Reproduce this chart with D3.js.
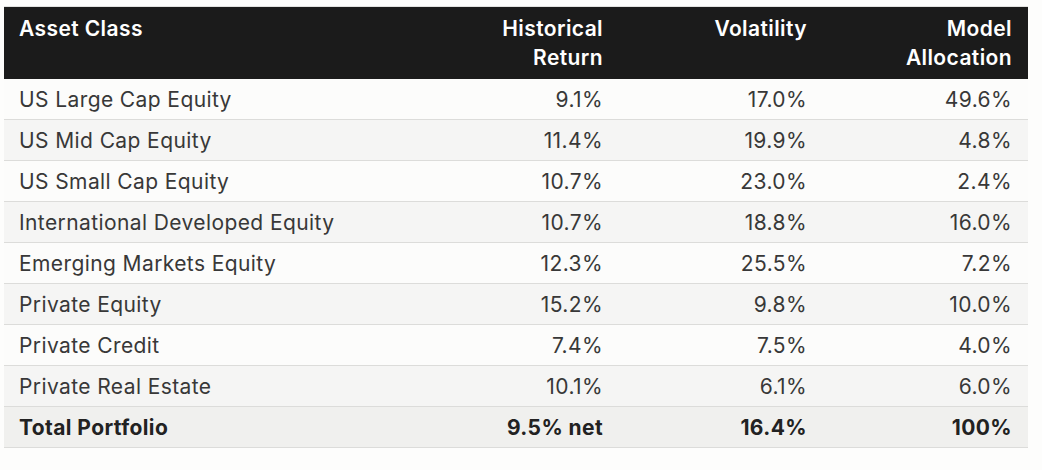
<!DOCTYPE html>
<html>
<head>
<meta charset="utf-8">
<script src="https://cdn.jsdelivr.net/npm/d3@7"></script>
<style>
  body { margin: 0; background: #fdfdfc; }
  svg { display: block; font-family: Inter, "Noto Sans", sans-serif; letter-spacing: 0.4px; }
</style>
</head>
<body>
<div id="chart"></div>
<script>
// Table data
const headers = [["Asset Class"], ["Historical", "Return"], ["Volatility"], ["Model", "Allocation"]];
const assetClasses = ["US Large Cap Equity", "US Mid Cap Equity", "US Small Cap Equity",
  "International Developed Equity", "Emerging Markets Equity", "Private Equity",
  "Private Credit", "Private Real Estate", "Total Portfolio"];
const historicalReturn = ["9.1%", "11.4%", "10.7%", "10.7%", "12.3%", "15.2%", "7.4%", "10.1%", "9.5% net"];
const volatility = ["17.0%", "19.9%", "23.0%", "18.8%", "25.5%", "9.8%", "7.5%", "6.1%", "16.4%"];
const modelAllocation = ["49.6%", "4.8%", "2.4%", "16.0%", "7.2%", "10.0%", "4.0%", "6.0%", "100%"];

const rows = assetClasses.map((name, i) => ({
  name, cells: [name, historicalReturn[i], volatility[i], modelAllocation[i]], total: i === assetClasses.length - 1
}));

const W = 1042, H = 470;
const left = 4, right = 1028, headTop = 7, headBottom = 79, bodyBottom = 448;
const colEdges = [left, 415, 619, 823, right];
const pad = 16;
const xText = c => c === 0 ? colEdges[0] + 15 : colEdges[c + 1] - pad;

const svg = d3.select("#chart").append("svg")
  .attr("width", W).attr("height", H);

const y = d3.scaleBand()
  .domain(d3.range(rows.length))
  .range([headBottom, bodyBottom]);

// header
svg.append("rect")
  .attr("x", left).attr("y", headTop)
  .attr("width", right - left).attr("height", headBottom - headTop)
  .attr("fill", "#1b1b1b");

svg.append("line")
  .attr("x1", left).attr("x2", right).attr("y1", headTop - 0.5).attr("y2", headTop - 0.5)
  .attr("stroke", "#e2e2e0");

headers.forEach((lines, c) => {
  const t = svg.append("text")
    .attr("fill", "#ffffff")
    .attr("font-size", 21)
    .attr("font-weight", 600)
    .attr("text-anchor", c === 0 ? "start" : "end");
  lines.forEach((l, k) => {
    t.append("tspan")
      .attr("x", xText(c))
      .attr("y", 36 + k * 29)
      .text(l);
  });
});

// body rows
const g = svg.selectAll(".row")
  .data(rows)
  .enter().append("g")
  .attr("class", "row")
  .attr("transform", (d, i) => `translate(0,${y(i)})`);

g.append("rect")
  .attr("x", left).attr("width", right - left)
  .attr("height", y.bandwidth())
  .attr("fill", (d, i) => d.total ? "#f0f0ee" : (i % 2 ? "#f5f5f4" : "#fcfcfb"));

g.append("line")
  .attr("x1", left).attr("x2", right)
  .attr("y1", y.bandwidth() - 0.5).attr("y2", y.bandwidth() - 0.5)
  .attr("stroke", "#dcdcda");

g.selectAll("text")
  .data(d => d.cells.map((v, c) => ({ v, c, total: d.total })))
  .enter().append("text")
  .attr("x", d => xText(d.c))
  .attr("y", 28)
  .attr("text-anchor", d => d.c === 0 ? "start" : "end")
  .attr("font-size", 21)
  .attr("font-weight", d => d.total ? 700 : 400)
  .attr("fill", d => d.total ? "#222222" : "#383838")
  .text(d => d.v);
</script>
</body>
</html>
